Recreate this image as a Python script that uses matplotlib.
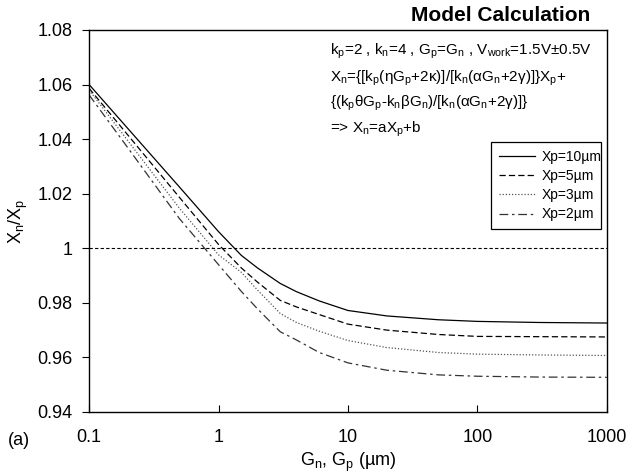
import matplotlib.pyplot as plt

plt.rcParams['font.family'] = ['Liberation Sans', 'DejaVu Sans']
plt.rcParams['mathtext.fontset'] = 'custom'
plt.rcParams['mathtext.rm'] = 'Liberation Sans'
plt.rcParams['mathtext.it'] = 'Liberation Sans:italic'
plt.rcParams['mathtext.bf'] = 'Liberation Sans:bold'

# G_n = G_p (um)
g = [0.1, 0.2, 0.5, 1, 1.5, 2, 3, 4, 6, 10, 20, 50, 100, 300, 1000]

# Xn/Xp for each Xp
xp10 = [1.0600, 1.0438, 1.0224, 1.0061, 0.9974, 0.9928, 0.9871, 0.9841, 0.9807,
        0.9772, 0.9752, 0.9738, 0.9732, 0.9728, 0.9726]
xp5 = [1.0586, 1.0414, 1.0186, 1.0014, 0.9928, 0.9876, 0.9809, 0.9785, 0.9757,
       0.9722, 0.9700, 0.9684, 0.9677, 0.9676, 0.9675]
xp3 = [1.0580, 1.0393, 1.0146, 0.9976, 0.9912, 0.9847, 0.9761, 0.9728, 0.9696,
       0.9662, 0.9636, 0.9618, 0.9612, 0.9609, 0.9607]
xp2 = [1.0562, 1.0367, 1.0108, 0.9940, 0.9842, 0.9778, 0.9694, 0.9664, 0.9618,
       0.9580, 0.9553, 0.9536, 0.9531, 0.9528, 0.9527]

xticks = [0.1, 1, 10, 100, 1000]
xtick_labels = ['0.1', '1', '10', '100', '1000']
yticks = [0.94, 0.96, 0.98, 1.0, 1.02, 1.04, 1.06, 1.08]
ytick_labels = ['0.94', '0.96', '0.98', '1', '1.02', '1.04', '1.06', '1.08']

fig = plt.figure(figsize=(6.32, 4.76), dpi=100)
ax = fig.add_axes([0.141, 0.1345, 0.819, 0.8025])

ax.plot(g, xp10, color='black', lw=0.9, label='Xp=10µm')
ax.plot(g, xp5, color='black', lw=0.9, dashes=(5, 2.5), label='Xp=5µm')
ax.plot(g, xp3, color='#555555', lw=0.9, dashes=(1, 1.5), label='Xp=3µm')
ax.plot(g, xp2, color='#333333', lw=0.9, dashes=(7, 3, 2, 3), label='Xp=2µm')
ax.axhline(1.0, color='black', lw=0.8, dashes=(3, 2))

ax.set_xscale('log')
ax.set_xlim(0.1, 1000)
ax.set_ylim(0.94, 1.08)
ax.set_xticks(xticks)
ax.set_xticklabels(xtick_labels)
ax.minorticks_off()
ax.set_yticks(yticks)
ax.set_yticklabels(ytick_labels)
ax.tick_params(axis='x', direction='in', length=5, pad=12, labelsize=13)
ax.tick_params(axis='y', direction='out', length=5, pad=7, labelsize=13)
for s in ax.spines.values():
    s.set_linewidth(1.0)

ax.set_xlabel('G$_\\mathrm{n}$, G$_\\mathrm{p}$ (µm)', fontsize=13, labelpad=4)
ax.set_ylabel('X$_\\mathrm{n}$/X$_\\mathrm{p}$', fontsize=13, labelpad=5)

leg = ax.legend(loc='lower left', bbox_to_anchor=(0.777, 0.479, 0.212, 0.22),
                mode='expand', borderaxespad=0, fancybox=False, framealpha=1,
                edgecolor='black', fontsize=10, handlelength=2.6,
                labelspacing=0.38, handletextpad=0.5, borderpad=0.55)
leg.get_frame().set_linewidth(0.9)

# title and notes
fig.text(590 / 632, 1 - 21 / 476, 'Model Calculation', ha='right', va='baseline',
         fontsize=15, fontweight='bold')
notes = [
    'k$_\\mathrm{p}$=2 , k$_\\mathrm{n}$=4 , G$_\\mathrm{p}$=G$_\\mathrm{n}$ , '
    'V$_\\mathrm{work}$=1.5V±0.5V',
    'X$_\\mathrm{n}$={[k$_\\mathrm{p}$(ηG$_\\mathrm{p}$+2κ)]/[k$_\\mathrm{n}$'
    '(αG$_\\mathrm{n}$+2γ)]}X$_\\mathrm{p}$+',
    '{(k$_\\mathrm{p}$θG$_\\mathrm{p}$-k$_\\mathrm{n}$βG$_\\mathrm{n}$)/'
    '[k$_\\mathrm{n}$(αG$_\\mathrm{n}$+2γ)]}',
    '=> X$_\\mathrm{n}$=aX$_\\mathrm{p}$+b',
]
baselines = [55, 82, 107, 133]
for t, b in zip(notes, baselines):
    fig.text(330 / 632, 1 - b / 476, t, ha='left', va='baseline', fontsize=11)

fig.text(8 / 632, 1 - 445 / 476, '(a)', ha='left', va='baseline', fontsize=13)

fig.savefig('out.png', dpi=100)
